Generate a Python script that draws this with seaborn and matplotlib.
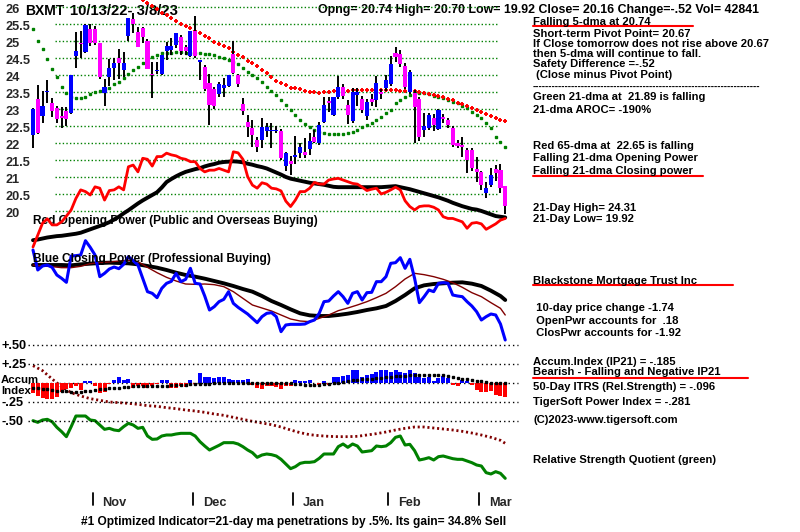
import matplotlib
matplotlib.use("Agg")
import matplotlib.pyplot as plt
import matplotlib.transforms as mtrans
from matplotlib.lines import Line2D
import seaborn as sns
import numpy as np

sns.set_theme(style="white")
plt.rcParams['font.family'] = ['Liberation Sans', 'DejaVu Sans']
plt.rcParams['font.weight'] = 'bold'

# ---------------- data ----------------
ticker = "BXMT"
date_range = "10/13/22- 3/8/23"

opens = [22.25, 23.30, 22.81, 23.50, 23.18, 23.05, 22.80, 22.95, 22.90, 24.57,
         24.95, 24.69, 25.35, 25.35, 24.94, 23.49, 23.96, 24.22, 24.50, 24.16,
         25.16, 25.65, 25.26, 25.39, 25.00, 24.05, 24.12, 24.04, 24.72, 24.75,
         24.89, 25.12, 24.84, 24.57, 25.31, 24.40, 24.25, 23.76, 23.59, 23.44,
         23.62, 23.69, 24.64, 24.00, 23.16, 22.64, 22.45, 22.10, 22.10, 22.37,
         22.36, 22.35, 22.37, 21.33, 21.48, 21.60, 21.72, 21.75, 21.82, 22.19,
         22.00, 22.64, 23.24, 22.83, 23.35, 23.65, 23.13, 22.66, 23.42, 23.30,
         22.80, 23.30, 23.27, 23.52, 23.62, 23.74, 24.66, 24.63, 24.27, 23.52,
         23.49, 23.30, 22.40, 22.44, 22.74, 22.42, 22.78, 22.69, 22.44, 22.00,
         21.95, 21.80, 21.80, 21.24, 21.16, 20.55, 20.77, 21.24, 21.21, 20.74]
highs = [23.05, 23.72, 23.54, 23.86, 23.32, 23.10, 23.06, 23.06, 24.02, 25.28,
         25.30, 25.50, 25.50, 25.45, 24.96, 23.89, 24.47, 24.50, 24.76, 24.69,
         25.68, 25.82, 25.43, 25.43, 25.06, 24.40, 24.40, 24.60, 24.99, 25.09,
         25.25, 25.20, 24.89, 25.31, 25.74, 24.45, 24.30, 24.05, 23.65, 23.80,
         23.91, 24.00, 25.00, 24.05, 23.32, 22.83, 22.69, 22.20, 22.74, 22.60,
         22.59, 22.50, 22.42, 21.75, 21.63, 22.21, 22.02, 22.15, 22.29, 22.39,
         22.63, 23.37, 23.37, 23.37, 23.98, 23.75, 23.27, 23.62, 23.62, 23.40,
         23.30, 23.45, 23.98, 23.60, 24.00, 24.57, 24.84, 24.75, 24.35, 24.15,
         23.57, 23.35, 22.90, 22.90, 22.85, 23.00, 22.85, 22.75, 22.50, 22.10,
         22.19, 21.85, 21.85, 21.60, 21.20, 20.87, 21.26, 21.36, 21.39, 20.74]
lows = [21.85, 22.28, 22.60, 23.18, 22.77, 22.60, 22.44, 22.50, 22.85, 24.21,
        24.50, 24.65, 24.87, 24.90, 23.90, 23.10, 23.70, 23.86, 23.90, 23.96,
        25.02, 25.24, 24.84, 24.95, 24.18, 23.32, 24.05, 24.00, 24.45, 24.60,
        24.80, 24.60, 24.60, 24.55, 24.50, 23.86, 23.55, 22.54, 23.00, 23.35,
        23.37, 23.65, 24.04, 23.65, 22.83, 22.20, 21.90, 21.75, 21.85, 22.20,
        21.85, 22.30, 21.50, 21.19, 21.06, 21.39, 21.56, 21.56, 21.66, 22.00,
        21.95, 22.60, 22.93, 22.80, 23.30, 23.30, 22.57, 22.60, 23.10, 22.90,
        22.70, 23.10, 23.08, 23.30, 23.55, 23.70, 24.40, 24.25, 23.60, 23.45,
        22.00, 22.08, 22.20, 22.40, 22.35, 22.40, 22.60, 22.45, 21.88, 21.85,
        21.60, 21.13, 21.20, 20.87, 20.63, 20.38, 20.72, 20.90, 20.53, 19.92]
closes = [23.00, 22.30, 23.09, 23.53, 22.95, 22.71, 22.75, 22.72, 24.00, 24.71,
          24.92, 25.48, 24.96, 24.96, 23.94, 23.66, 24.22, 24.37, 24.35, 24.37,
          25.68, 25.50, 24.84, 25.13, 24.20, 24.00, 24.16, 24.60, 24.86, 24.85,
          25.25, 24.72, 24.72, 25.31, 24.57, 24.45, 23.59, 23.13, 23.10, 23.74,
          23.71, 24.00, 24.06, 23.74, 22.96, 22.49, 22.24, 21.90, 22.49, 22.49,
          22.40, 22.39, 21.56, 21.72, 21.38, 21.65, 21.88, 21.66, 22.08, 22.05,
          22.54, 23.13, 23.18, 23.37, 23.65, 23.38, 22.83, 23.50, 23.50, 22.98,
          23.22, 23.22, 23.76, 23.45, 23.86, 24.33, 24.53, 24.33, 23.65, 24.10,
          23.08, 22.20, 22.50, 22.83, 22.54, 22.98, 22.71, 22.54, 21.95, 21.92,
          21.90, 21.51, 21.26, 21.16, 20.77, 20.69, 21.07, 21.14, 20.68, 20.16]

ma21 = [25.35, 25.02, 24.76, 24.47, 24.19, 23.94, 23.66, 23.49, 23.37, 23.34,
        23.34, 23.37, 23.44, 23.52, 23.55, 23.59, 23.64, 23.74, 23.81, 23.93,
        24.04, 24.16, 24.25, 24.35, 24.45, 24.53, 24.60, 24.65, 24.66, 24.67,
        24.68, 24.68, 24.67, 24.66, 24.66, 24.65, 24.63, 24.62, 24.59, 24.55,
        24.50, 24.45, 24.40, 24.32, 24.21, 24.11, 24.00, 23.91, 23.81, 23.66,
        23.55, 23.42, 23.27, 23.13, 22.98, 22.82, 22.68, 22.56, 22.47, 22.40,
        22.33, 22.29, 22.28, 22.27, 22.27, 22.27, 22.31, 22.34, 22.39, 22.47,
        22.54, 22.61, 22.69, 22.78, 22.88, 22.98, 23.18, 23.27, 23.37, 23.42,
        23.49, 23.49, 23.47, 23.44, 23.39, 23.37, 23.32, 23.27, 23.22, 23.18,
        23.10, 23.03, 22.93, 22.83, 22.74, 22.59, 22.46, 22.19, 22.05, 21.89]

ma65_first_day = 23
ma65 = [26.21, 26.14, 26.04, 25.94, 25.84, 25.77, 25.68, 25.61, 25.51, 25.45,
        25.39, 25.31, 25.24, 25.16, 25.09, 24.99, 24.92, 24.86, 24.79, 24.70,
        24.60, 24.53, 24.43, 24.35, 24.27, 24.17, 24.06, 23.95, 23.84, 23.78,
        23.71, 23.64, 23.62, 23.59, 23.55, 23.52, 23.50, 23.49, 23.51, 23.52,
        23.54, 23.55, 23.55, 23.55, 23.56, 23.56, 23.56, 23.56, 23.56, 23.56,
        23.56, 23.56, 23.56, 23.56, 23.55, 23.55, 23.54, 23.53, 23.52, 23.47,
        23.45, 23.42, 23.38, 23.35, 23.29, 23.26, 23.20, 23.16, 23.10, 23.04,
        22.98, 22.93, 22.86, 22.79, 22.74, 22.69, 22.65]

# Opening power (red) and its average (black), drawn in the price panel
open_power = [18.95, 19.30, 19.65, 19.78, 19.60, 19.60, 19.69, 19.86, 20.04, 20.38,
              20.63, 20.58, 20.48, 20.72, 20.68, 20.33, 20.61, 20.63, 20.72, 20.63,
              21.31, 21.36, 21.16, 21.56, 21.53, 21.33, 21.61, 21.61, 21.71, 21.66,
              21.63, 21.56, 21.53, 21.46, 21.46, 21.26, 21.16, 21.21, 21.21, 21.26,
              21.21, 21.16, 21.75, 21.72, 21.53, 21.02, 20.77, 20.68, 20.84, 20.80,
              20.68, 20.66, 20.60, 20.30, 20.14, 20.33, 20.58, 20.58, 20.68, 20.85,
              20.80, 20.80, 20.92, 20.95, 20.97, 20.92, 20.87, 20.82, 20.80, 20.71,
              20.61, 20.65, 20.68, 20.51, 20.56, 20.63, 20.71, 20.63, 20.31, 20.14,
              20.04, 20.14, 20.16, 20.16, 20.12, 20.04, 19.84, 19.79, 19.79, 19.74,
              19.69, 19.50, 19.65, 19.67, 19.63, 19.47, 19.55, 19.63, 19.74, 19.79]
open_power_ma = [19.15, 19.17, 19.20, 19.23, 19.25, 19.27, 19.28, 19.30, 19.32, 19.34,
                 19.37, 19.42, 19.47, 19.52, 19.57, 19.62, 19.68, 19.76, 19.84, 19.94,
                 20.03, 20.13, 20.23, 20.32, 20.40, 20.48, 20.56, 20.70, 20.86, 20.95,
                 21.03, 21.10, 21.16, 21.20, 21.24, 21.27, 21.32, 21.36, 21.39, 21.43,
                 21.45, 21.46, 21.47, 21.46, 21.44, 21.40, 21.37, 21.33, 21.30, 21.26,
                 21.20, 21.14, 21.08, 21.01, 20.96, 20.93, 20.90, 20.87, 20.84, 20.82,
                 20.80, 20.78, 20.75, 20.72, 20.71, 20.71, 20.71, 20.71, 20.71, 20.71,
                 20.71, 20.71, 20.71, 20.71, 20.72, 20.73, 20.74, 20.71, 20.68, 20.65,
                 20.61, 20.57, 20.53, 20.49, 20.45, 20.41, 20.36, 20.31, 20.25, 20.20,
                 20.15, 20.11, 20.07, 20.05, 20.01, 19.96, 19.91, 19.86, 19.84, 19.82]

# Closing power panel
close_power = [3.10, 2.50, 2.62, 2.65, 2.58, 2.35, 2.25, 2.13, 2.92, 2.93,
               2.95, 3.38, 3.18, 2.95, 2.30, 2.40, 2.53, 2.59, 2.54, 2.67,
               2.90, 2.78, 2.65, 2.25, 1.85, 1.80, 1.67, 1.95, 2.10, 2.16,
               2.40, 2.15, 2.22, 2.55, 2.10, 2.08, 1.72, 1.30, 1.40, 1.55,
               1.62, 1.85, 1.50, 1.38, 1.28, 1.18, 1.05, 0.92, 1.10, 1.20,
               1.22, 1.10, 0.65, 0.85, 0.87, 0.87, 0.87, 0.88, 0.95, 1.00,
               1.20, 1.55, 1.57, 1.72, 1.85, 1.70, 1.50, 1.80, 1.85, 1.60,
               1.82, 1.83, 2.15, 2.15, 2.30, 2.70, 2.72, 2.87, 2.55, 2.82,
               2.25, 1.52, 1.70, 1.90, 1.85, 2.10, 2.12, 2.10, 1.75, 1.72,
               1.70, 1.55, 1.42, 1.25, 1.00, 1.10, 1.18, 1.15, 0.88, 0.40]
smooth_days = [0, 2, 4, 6, 8, 10, 12, 14, 16, 18, 20, 22, 24, 26, 28, 30, 32, 34,
               36, 38, 40, 42, 44, 46, 48, 50, 52, 54, 56, 58, 60, 62, 64, 66, 68,
               70, 72, 74, 76, 78, 80, 82, 84, 86, 88, 90, 92, 94, 96, 98, 99]
close_power_ma_long = [2.65, 2.65, 2.65, 2.65, 2.64, 2.67, 2.69, 2.71, 2.72, 2.71,
                       2.70, 2.67, 2.62, 2.57, 2.50, 2.42, 2.35, 2.30, 2.24, 2.17,
                       2.10, 2.02, 1.93, 1.85, 1.72, 1.57, 1.45, 1.32, 1.20, 1.14,
                       1.12, 1.12, 1.15, 1.19, 1.24, 1.30, 1.35, 1.42, 1.57, 1.75,
                       1.95, 2.04, 2.08, 2.10, 2.12, 2.13, 2.09, 2.02, 1.88, 1.72, 1.60]
close_power_ma_short = [2.65, 2.62, 2.60, 2.57, 2.57, 2.61, 2.69, 2.72, 2.74, 2.77,
                        2.79, 2.75, 2.58, 2.42, 2.28, 2.17, 2.08, 2.07, 2.08, 2.06,
                        2.00, 1.85, 1.65, 1.45, 1.36, 1.27, 1.15, 1.03, 0.97, 0.95,
                        1.05, 1.15, 1.28, 1.36, 1.45, 1.55, 1.67, 1.80, 2.00, 2.23,
                        2.40, 2.36, 2.30, 2.22, 2.12, 1.98, 1.82, 1.70, 1.52, 1.35, 1.15]

# Accumulation index (IP21)
accum = [-0.14, -0.17, -0.20, -0.22, -0.21, -0.19, -0.125, -0.09, -0.07, -0.05,
         -0.10, 0.02, 0.02, -0.04, -0.13, -0.12, -0.02, 0.04, 0.08, 0.04,
         0.05, -0.07, -0.04, -0.05, -0.07, -0.04, -0.02, 0.03, 0.04, -0.07,
         -0.07, -0.04, -0.06, 0.04, -0.02, 0.13, 0.07, 0.07, 0.06, 0.08,
         0.08, 0.05, 0.03, 0.03, 0.035, 0.05, -0.035, -0.07, -0.08, -0.045,
         -0.045, -0.06, -0.09, -0.05, -0.05, 0.03, 0.015, 0.025, 0.03, -0.01,
         -0.03, 0.02, -0.03, 0.08, 0.08, 0.09, 0.10, 0.165, 0.17, 0.08,
         0.10, 0.12, 0.145, 0.165, 0.16, 0.145, 0.16, 0.145, 0.13, 0.17,
         0.13, 0.08, 0.06, 0.08, 0.015, 0.06, 0.09, 0.06, -0.03, -0.045,
         0.035, 0.015, -0.03, -0.10, -0.12, -0.12, -0.105, -0.16, -0.175, -0.185]
accum_ma = [-0.067, -0.075, -0.083, -0.09, -0.10, -0.105, -0.11, -0.115, -0.117, -0.119,
            -0.12, -0.115, -0.105, -0.095, -0.085, -0.08, -0.075, -0.07, -0.065, -0.06,
            -0.055, -0.05, -0.048, -0.046, -0.045, -0.043, -0.042, -0.041, -0.04, -0.037,
            -0.033, -0.03, -0.027, -0.024, -0.021, -0.018, -0.015, -0.012, -0.01, -0.01,
            -0.01, -0.01, -0.01, -0.01, -0.01, -0.01, -0.01, -0.01, -0.01, -0.01,
            -0.01, -0.01, -0.01, -0.01, -0.01, -0.015, -0.02, -0.025, -0.03, -0.03,
            -0.025, -0.02, -0.015, -0.01, 0.0, 0.01, 0.02, 0.03, 0.036, 0.042,
            0.048, 0.054, 0.06, 0.067, 0.074, 0.08, 0.084, 0.088, 0.092, 0.096,
            0.10, 0.10, 0.10, 0.10, 0.10, 0.097, 0.094, 0.09, 0.075, 0.06,
            0.052, 0.044, 0.035, 0.026, 0.017, 0.008, 0.0, -0.003, -0.007, -0.01]
accum_levels = [0.50, 0.25, 0.0, -0.25, -0.50]
accum_labels = ["+.50", "+.25", "-.25", "-.50"]

# Relative strength quotient (green) and its average (dark red)
rsq = [2.38, 2.33, 2.40, 2.42, 2.35, 2.18, 2.05, 1.90, 2.20, 2.52,
       2.52, 2.52, 2.40, 2.38, 2.25, 2.12, 2.15, 2.10, 2.08, 2.20,
       2.30, 2.25, 2.15, 2.18, 1.92, 1.82, 1.83, 1.92, 1.95, 1.95,
       1.98, 2.00, 2.00, 2.00, 1.92, 1.75, 1.62, 1.50, 1.57, 1.64,
       1.72, 1.72, 1.72, 1.68, 1.60, 1.50, 1.42, 1.28, 1.35, 1.38,
       1.36, 1.32, 1.22, 1.08, 0.94, 1.00, 1.10, 1.13, 1.13, 1.15,
       1.25, 1.38, 1.38, 1.38, 1.60, 1.68, 1.58, 1.68, 1.62, 1.44,
       1.46, 1.48, 1.62, 1.60, 1.62, 1.72, 1.88, 1.92, 1.65, 1.67,
       1.48, 1.20, 1.23, 1.27, 1.20, 1.30, 1.32, 1.28, 1.24, 1.22,
       1.22, 1.17, 1.12, 1.05, 1.02, 0.82, 0.78, 0.85, 0.80, 0.65]
rsq_ma = [4.03, 3.88, 3.63, 3.40, 3.22, 3.12, 3.04, 2.99, 2.94, 2.92,
          2.90, 2.87, 2.83, 2.81, 2.77, 2.74, 2.70, 2.67, 2.63, 2.58,
          2.54, 2.48, 2.42, 2.36, 2.31, 2.26, 2.19, 2.10, 2.02, 1.96,
          1.93, 1.91, 1.90, 1.90, 1.91, 1.95, 1.99, 2.04, 2.10, 2.15,
          2.19, 2.19, 2.16, 2.13, 2.10, 2.06, 2.01, 1.95, 1.88, 1.79, 1.70]

price_ticks = [26, 25.5, 25, 24.5, 24, 23.5, 23, 22.5, 22, 21.5, 21, 20.5, 20]
price_tick_labels = ["26", "25.5", "25", "24.5", "24", "23.5", "23", "22.5",
                     "22", "21.5", "21", "20.5", "20"]
months = ["Nov", "Dec", "Jan", "Feb", "Mar"]
month_first_day = [13, 34, 55, 75, 94]

header = "Opng= 20.74 High= 20.70 Low= 19.92 Close= 20.16 Change=-.52 Vol= 42841"
right_lines = [
    (22, "Falling 5-dma at 20.74"),
    (34, "Short-term Pivot Point= 20.67"),
    (44, "If Close tomorrow does not rise above 20.67"),
    (54, "then 5-dma will continue to fall."),
    (64, "Safety Difference =-.52"),
    (75, " (Close minus Pivot Point)"),
    (97, "Green 21-dma at  21.89 is falling"),
    (110, "21-dma AROC= -190%"),
    (146, "Red 65-dma at  22.65 is falling"),
    (158, "Falling 21-dma Opening Power"),
    (171, "Falling 21-dma Closing power"),
    (208, "21-Day High= 24.31"),
    (219, "21-Day Low= 19.92"),
    (281, "Blackstone Mortgage Trust Inc"),
    (308, " 10-day price change -1.74"),
    (321, " OpenPwr accounts for  .18"),
    (333, " ClosPwr accounts for -1.92"),
    (362, "Accum.Index (IP21) = -.185"),
    (372, "Bearish - Falling and Negative IP21"),
    (387, "50-Day ITRS (Rel.Strength) = -.096"),
    (402, "TigerSoft Power Index = -.281"),
    (420, "(C)2023-www.tigersoft.com"),
    (460, "Relative Strength Quotient (green)"),
]
bottom_note = "#1 Optimized Indicator=21-day ma penetrations by .5%. Its gain= 34.8% Sell"

# ---------------- layout ----------------
W, H = 800, 532
fig = plt.figure(figsize=(W / 100, H / 100), dpi=100)
fig.patch.set_facecolor("white")
X0, DX = 33.0, 4.77            # pixel of first day, pixels per day
XLIM = (-X0 / DX, (W - X0) / DX)
LIMS = {"price": (10.568, 26.2147), "cp": (-5.36, 10.6),
        "acc": (-1.966, 5.036), "rs": (-0.96, 15.0)}


def px2day(px):
    return (px - X0) / DX


def panel(ylim, z):
    ax = fig.add_axes([0, 0, 1, 1], zorder=z)
    ax.set_xlim(*XLIM)
    ax.set_ylim(*ylim)
    ax.set_axis_off()
    return ax


ax_r = panel(LIMS["rs"], 1)       # relative strength
ax_a = panel(LIMS["acc"], 2)      # accumulation index
ax_c = panel(LIMS["cp"], 3)       # closing power
ax_p = panel(LIMS["price"], 4)    # price


def ftext(x, y, s, **kw):
    kw.setdefault("va", "center")
    kw.setdefault("ha", "left")
    kw.setdefault("fontweight", "bold")
    kw.setdefault("color", "black")
    fig.text(x / W, 1 - y / H, s, **kw)


def fline(x1, x2, y, **kw):
    fig.add_artist(Line2D([x1 / W, x2 / W], [1 - y / H, 1 - y / H],
                          transform=fig.transFigure, **kw))


days = np.arange(len(closes))

# --- price panel ---
for p in price_ticks:
    ax_p.hlines(p, px2day(55), px2day(499), colors="#008000",
                linestyles=(0, (1, 1.6)), lw=1.0, zorder=1)

sns.lineplot(x=days, y=open_power_ma, ax=ax_p, color="black", linewidth=2.8,
             estimator=None, sort=False, legend=False, zorder=2)
sns.lineplot(x=days, y=open_power, ax=ax_p, color="#FF0000", linewidth=2.0,
             estimator=None, sort=False, legend=False, zorder=2)

ax_p.plot(days, ma21, ls="none", marker="s", ms=2.0, color="#008000", zorder=3)
ma65_days = np.arange(ma65_first_day, ma65_first_day + len(ma65))
ax_p.plot(ma65_days, ma65, ls="none", marker="+", ms=3.5, mew=1.4,
          color="#FF0000", zorder=3)

o = np.array(opens); c = np.array(closes)
ax_p.vlines(days, lows, highs, colors="black", lw=1.4, zorder=4)
body_bottom = np.minimum(o, c)
body_height = np.maximum(np.abs(c - o), 0.04)
body_color = np.where(c >= o, "#0000FF", "#FF00FF")
ax_p.bar(days, body_height, bottom=body_bottom, width=0.86, color=body_color,
         linewidth=0, zorder=5)

trans_lab = mtrans.blended_transform_factory(fig.transFigure, ax_p.transData) + \
    mtrans.ScaledTranslation(0, -3 / 100, fig.dpi_scale_trans)
for p, lab in zip(price_ticks, price_tick_labels):
    fig.text(6 / W, p, lab, transform=trans_lab, va="center", ha="left",
             fontsize=9.2, fontweight="bold")

# --- closing power panel ---
sns.lineplot(x=smooth_days, y=close_power_ma_long, ax=ax_c, color="black",
             linewidth=2.8, estimator=None, sort=False, legend=False)
sns.lineplot(x=smooth_days, y=close_power_ma_short, ax=ax_c, color="#800000",
             linewidth=1.0, estimator=None, sort=False, legend=False)
sns.lineplot(x=days, y=close_power, ax=ax_c, color="#0000FF", linewidth=2.2,
             estimator=None, sort=False, legend=False)

# --- accumulation panel ---
for lv in accum_levels:
    ax_a.hlines(lv, px2day(28), px2day(518), colors="black",
                linestyles=(0, (1, 2.2)), lw=1.0, zorder=1)
acc = np.array(accum)
ax_a.bar(days, acc, width=0.84, color=np.where(acc >= 0, "#0000FF", "#FF0000"),
         linewidth=0, zorder=2)
ax_a.plot(days, accum_ma, ls="none", marker="s", ms=1.9, color="black", zorder=3)

# --- relative strength panel ---
sns.lineplot(x=smooth_days, y=rsq_ma, ax=ax_r, color="#800000", linewidth=2.0,
             linestyle=(0, (0.75, 1.0)), estimator=None, sort=False, legend=False)
sns.lineplot(x=days, y=rsq, ax=ax_r, color="#008000", linewidth=2.2,
             estimator=None, sort=False, legend=False)

for ax, key in ((ax_p, "price"), (ax_c, "cp"), (ax_a, "acc"), (ax_r, "rs")):
    ax.set_xlim(*XLIM)
    ax.set_ylim(*LIMS[key])
    ax.set_axis_off()

# --- months ---
trans_m = mtrans.blended_transform_factory(ax_r.transData, fig.transFigure)
for m, d in zip(months, month_first_day):
    xm = d - 0.5
    fig.add_artist(Line2D([xm, xm], [1 - 493 / H, 1 - 505 / H], transform=trans_m,
                          color="black", lw=1.3))
    fig.text(xm, 1 - 503 / H, m, transform=trans_m + mtrans.ScaledTranslation(
        10 / 100, 0, fig.dpi_scale_trans), va="center", ha="left",
        fontsize=9.2, fontweight="bold")

# --- texts ---
ftext(25, 11, ticker, fontsize=10)
ftext(70, 11, date_range, fontsize=10.6)
ftext(318, 10, header, fontsize=8.9)

for y, s in right_lines:
    ftext(533, y, s, fontsize=8.1)
ftext(533, 87, "-" * 70, fontsize=7.2)
fline(533, 693, 26, color="#FF0000", lw=1.5)
fline(533, 703, 176, color="#FF0000", lw=1.5)
fline(533, 733, 285, color="#FF0000", lw=1.5)
fline(533, 748, 378, color="#FF0000", lw=1.5)

ftext(33, 221, "Red Opening Power (Public and Overseas Buying)", fontsize=8.6)
ftext(33, 259, "Blue Closing Power (Professional Buying)", fontsize=8.6)

for lab, y in zip(accum_labels, [346, 365, 403, 422]):
    ftext(2, y, lab, fontsize=9.2)
ftext(1, 380, "Accum", fontsize=8.2)
ftext(1, 391, "Index", fontsize=8.2)

ftext(81, 522, bottom_note, fontsize=8.6)

fig.savefig("out.png", dpi=100, facecolor="white")
